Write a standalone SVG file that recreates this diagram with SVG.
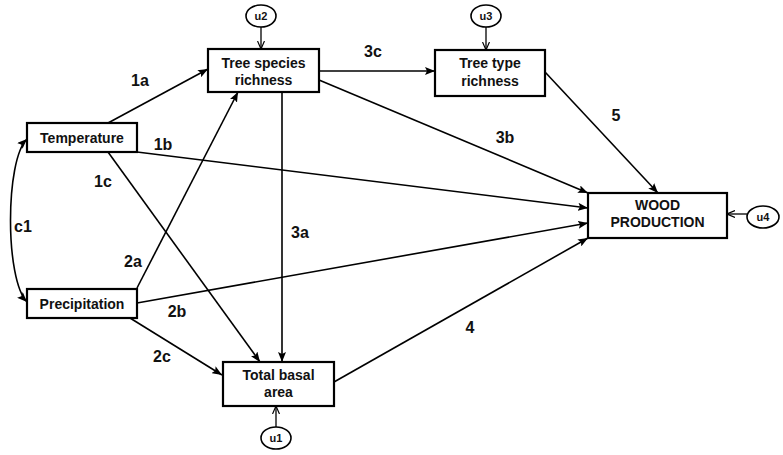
<svg xmlns="http://www.w3.org/2000/svg" width="783" height="455" viewBox="0 0 783 455">
<defs>
<style>
.box{fill:#fff;stroke:#000;stroke-width:2.2}
.u{fill:#fff;stroke:#000;stroke-width:1.6}
.t{font-family:"Liberation Sans",Arial,sans-serif;font-weight:bold;font-size:14px;text-anchor:middle;fill:#111}
.ut{font-family:"Liberation Sans",Arial,sans-serif;font-weight:bold;font-size:11px;text-anchor:middle;fill:#111}
.lb{font-family:"Liberation Sans",Arial,sans-serif;font-weight:bold;font-size:16px;text-anchor:middle;fill:#111}
.c{fill:none;stroke:#000;stroke-width:1.6}
.cu{fill:none;stroke:#000;stroke-width:1.3}
</style>
<marker id="a" viewBox="0 0 10 8" refX="10" refY="4" markerWidth="10" markerHeight="8" orient="auto-start-reverse" markerUnits="userSpaceOnUse"><path d="M0,0 L10,4 L0,8 L2,4 z" fill="#000"/></marker>
<marker id="o" viewBox="0 0 8 8" refX="8" refY="4" markerWidth="8" markerHeight="8" orient="auto" markerUnits="userSpaceOnUse"><path d="M0,0.5 L8,4 L0,7.5" fill="none" stroke="#000" stroke-width="1.2"/></marker>
</defs>
<rect width="783" height="455" fill="#fff"/>
<g id="connectors">
<path class="c" d="M108,123 L208,69" marker-end="url(#a)"/>
<path class="c" d="M137,152 L588,208" marker-end="url(#a)"/>
<path class="c" d="M108,152 L260,362" marker-end="url(#a)"/>
<path class="c" d="M137,288 L238,92" marker-end="url(#a)"/>
<path class="c" d="M137,303 L588,223" marker-end="url(#a)"/>
<path class="c" d="M130,318 L222,375" marker-end="url(#a)"/>
<path class="c" d="M282,92 L282,362" marker-end="url(#a)"/>
<path class="c" d="M319,80 L588,193" marker-end="url(#a)"/>
<path class="c" d="M319,71 L435,71" marker-end="url(#a)"/>
<path class="c" d="M334,382 L588,238" marker-end="url(#a)"/>
<path class="c" d="M545,72 L658,193" marker-end="url(#a)"/>
<path class="c" d="M27,139 C5,160 5,280 27,302" marker-start="url(#a)" marker-end="url(#a)"/>
<path class="cu" d="M261,27 L261,49" marker-end="url(#o)"/>
<path class="cu" d="M486,27 L486,50" marker-end="url(#o)"/>
<path class="cu" d="M276,427 L276,406" marker-end="url(#o)"/>
<path class="cu" d="M747,214 L727,214" marker-end="url(#o)"/>
</g>
<g id="labels">
<text class="lb" x="140" y="86">1a</text>
<text class="lb" x="163" y="150">1b</text>
<text class="lb" x="103" y="187">1c</text>
<text class="lb" x="23" y="232">c1</text>
<text class="lb" x="133" y="267">2a</text>
<text class="lb" x="177" y="317">2b</text>
<text class="lb" x="162" y="362">2c</text>
<text class="lb" x="300" y="238">3a</text>
<text class="lb" x="505" y="143">3b</text>
<text class="lb" x="373" y="57">3c</text>
<text class="lb" x="470" y="333">4</text>
<text class="lb" x="616" y="121">5</text>
</g>
<g id="temperature">
<rect class="box" x="27" y="123" width="110" height="29"/>
<text class="t" x="82" y="143">Temperature</text>
</g>
<g id="precipitation">
<rect class="box" x="27" y="289" width="110" height="29"/>
<text class="t" x="82" y="309">Precipitation</text>
</g>
<g id="tree-species">
<rect class="box" x="208" y="49" width="111" height="43"/>
<text class="t" x="263.5" y="68">Tree species</text>
<text class="t" x="263.5" y="85">richness</text>
</g>
<g id="tree-type">
<rect class="box" x="435" y="50" width="110" height="46"/>
<text class="t" x="490" y="68">Tree type</text>
<text class="t" x="490" y="86">richness</text>
</g>
<g id="wood">
<rect class="box" x="588" y="193" width="139" height="45"/>
<text class="t" x="657.5" y="210">WOOD</text>
<text class="t" x="657.5" y="227">PRODUCTION</text>
</g>
<g id="basal">
<rect class="box" x="223" y="362" width="111" height="44"/>
<text class="t" x="278.5" y="380">Total basal</text>
<text class="t" x="278.5" y="397">area</text>
</g>
<g id="u2"><ellipse class="u" cx="261" cy="16" rx="15" ry="11"/><text class="ut" x="261" y="20">u2</text></g>
<g id="u3"><ellipse class="u" cx="486" cy="16" rx="15" ry="11"/><text class="ut" x="486" y="20">u3</text></g>
<g id="u1"><ellipse class="u" cx="276" cy="438" rx="15" ry="11"/><text class="ut" x="276" y="442">u1</text></g>
<g id="u4"><ellipse class="u" cx="763" cy="217" rx="16" ry="11"/><text class="ut" x="763" y="221">u4</text></g>
</svg>
